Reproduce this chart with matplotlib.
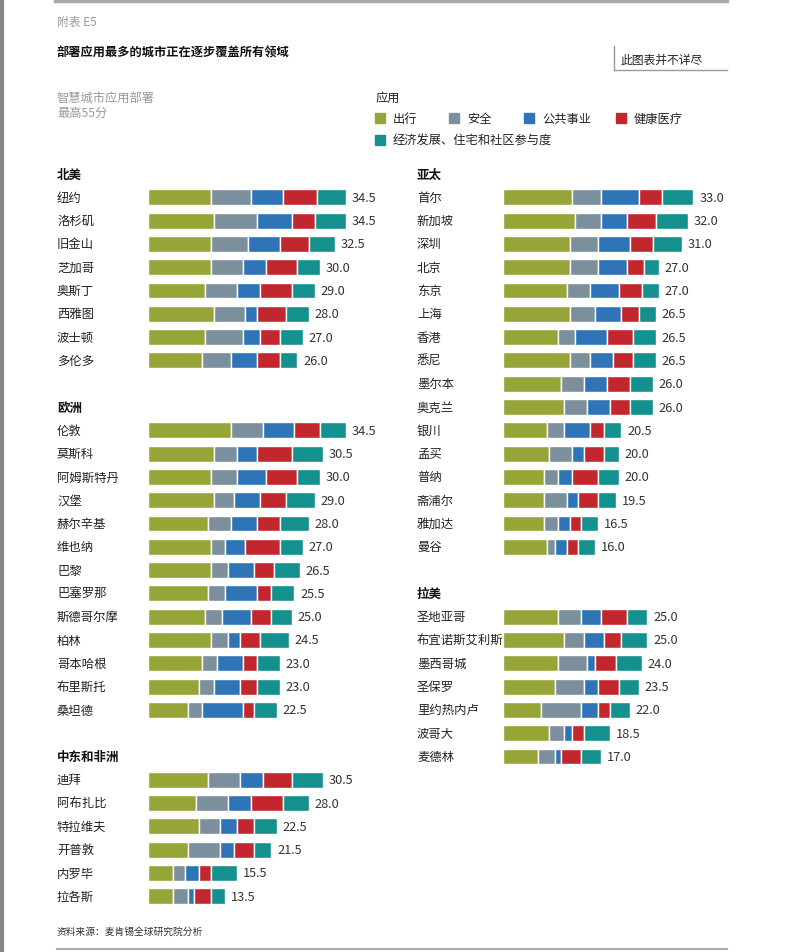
import matplotlib.pyplot as plt
from matplotlib.patches import Rectangle
from matplotlib.lines import Line2D

plt.rcParams['font.family'] = ['Noto Sans CJK SC', 'DejaVu Sans']

# left column: 北美, 欧洲, 中东和非洲
cities_left = ['纽约', '洛杉矶', '旧金山', '芝加哥', '奥斯丁', '西雅图', '波士顿', '多伦多',
               '伦敦', '莫斯科', '阿姆斯特丹', '汉堡', '赫尔辛基', '维也纳', '巴黎', '巴塞罗那',
               '斯德哥尔摩', '柏林', '哥本哈根', '布里斯托', '桑坦德',
               '迪拜', '阿布扎比', '特拉维夫', '开普敦', '内罗毕', '拉各斯']
mobility_left = [11, 11.5, 11, 11, 10, 11.5, 10, 9.5,
                 14.5, 11.5, 11, 11.5, 10.5, 11, 11, 10.5, 10, 11, 9.5, 9, 7,
                 10.5, 8.5, 9, 7, 4.5, 4.5]
security_left = [7, 7.5, 6.5, 5.5, 5.5, 5.5, 6.5, 5,
                 5.5, 4, 4.5, 3.5, 4, 2.5, 3, 3, 3, 3, 2.5, 2.5, 2.5,
                 5.5, 5.5, 3.5, 5.5, 2, 2.5]
utilities_left = [5.5, 6, 5.5, 4, 4, 2, 3, 4.5,
                  5.5, 3.5, 5, 4.5, 4.5, 3.5, 4.5, 5.5, 5, 2, 4.5, 4.5, 7,
                  4, 4, 3, 2.5, 2.5, 1]
health_left = [6, 4, 5, 5.5, 5.5, 5, 3.5, 4,
               4.5, 6, 5.5, 4.5, 4, 6, 3.5, 2.5, 3.5, 3.5, 2.5, 3, 2,
               5, 5.5, 3, 3.5, 2, 3]
economic_left = [5, 5.5, 4.5, 4, 4, 4, 4, 3,
                 4.5, 5.5, 4, 5, 5, 4, 4.5, 4, 3.5, 5, 4, 4, 4,
                 5.5, 4.5, 4, 3, 4.5, 2.5]
groups_left = [('北美', 8), ('欧洲', 13), ('中东和非洲', 6)]

# right column: 亚太, 拉美
cities_right = ['首尔', '新加坡', '深圳', '北京', '东京', '上海', '香港', '悉尼', '墨尔本', '奥克兰',
                '银川', '孟买', '普纳', '斋浦尔', '雅加达', '曼谷',
                '圣地亚哥', '布宜诺斯艾利斯', '墨西哥城', '圣保罗', '里约热内卢', '波哥大', '麦德林']
mobility_right = [12, 12.5, 11.5, 11.5, 11, 11.5, 9.5, 11.5, 10, 10.5,
                  7.5, 8, 7, 7, 7, 7.5,
                  9.5, 10.5, 9.5, 9, 6.5, 8, 6]
security_right = [5, 4.5, 5, 5, 4, 4.5, 3, 3.5, 4, 4,
                  3, 4, 2.5, 4, 2.5, 1.5,
                  4, 3.5, 5, 5, 7, 2.5, 3]
utilities_right = [6.5, 4.5, 5.5, 5, 5, 4.5, 5.5, 4, 4, 4,
                   4.5, 2, 2.5, 2, 2, 2,
                   3.5, 3.5, 1.5, 2.5, 3, 1.5, 1]
health_right = [4, 5, 4, 3, 4, 3, 4.5, 3.5, 4, 3.5,
                2.5, 3.5, 4.5, 3.5, 2, 2,
                4.5, 3, 3.5, 3.5, 2, 2, 3.5]
economic_right = [5.5, 5.5, 5, 2.5, 3, 3, 4, 4, 4, 4,
                  3, 2.5, 3.5, 3, 3, 3,
                  3.5, 4.5, 4.5, 3.5, 3.5, 4.5, 3.5]
groups_right = [('亚太', 16), ('拉美', 7)]

categories = ['出行', '安全', '公共事业', '健康医疗', '经济发展、住宅和社区参与度']
colors = ['#97a438', '#7b909c', '#2e74b6', '#c1272d', '#14908f']

W, H = 800, 953
fig = plt.figure(figsize=(W / 100, H / 100), dpi=100)
fig.patch.set_facecolor('white')

PITCH = 23.3
Y0 = 175  # pixel y of row index 0
SCALE = 5.76  # pixels per score unit


def px(x, y):
    return x / W, 1 - y / H


def draw_column(x_left, x_zero, cities, series, groups):
    top, bottom = 160, 920
    width = 350
    ax = fig.add_axes([x_left / W, 1 - bottom / H, width / W, (bottom - top) / H])
    ax.set_xlim(-(x_zero - x_left) / SCALE, (width - (x_zero - x_left)) / SCALE)
    ax.set_ylim((bottom - Y0) / PITCH, (top - Y0) / PITCH)
    ax.axis('off')
    trans = ax.get_yaxis_transform()
    idx = 0
    k = 0
    for name, n in groups:
        ax.text(0, idx, name, transform=trans, va='center', ha='left',
                fontsize=9, fontweight='bold', color='#111111')
        rows = list(range(idx + 1, idx + 1 + n))
        names = cities[k:k + n]
        vals = [s[k:k + n] for s in series]
        left = [0] * n
        for v, c in zip(vals, colors):
            ax.barh(rows, v, left=left, height=0.68, color=c,
                    edgecolor='white', linewidth=1.0)
            left = [a + b for a, b in zip(left, v)]
        for r, nm, tot in zip(rows, names, left):
            ax.text(0, r, nm, transform=trans, va='center', ha='left',
                    fontsize=8.9, color='#222222')
            ax.text(tot + 1.0, r, f'{tot:.1f}', va='center', ha='left',
                    fontsize=9.2, color='#333333')
        k += n
        idx += n + 2
    return ax


draw_column(57, 147.5, cities_left,
            [mobility_left, security_left, utilities_left, health_left, economic_left],
            groups_left)
draw_column(417, 503.3, cities_right,
            [mobility_right, security_right, utilities_right, health_right, economic_right],
            groups_right)

# header texts
fig.text(*px(57, 22), '附表 E5', fontsize=8.5, color='#999999', va='center')
fig.text(*px(57, 53), '部署应用最多的城市正在逐步覆盖所有领域', fontsize=8.8,
         fontweight='bold', color='#111111', va='center')
fig.text(*px(620, 60), '此图表并不详尽', fontsize=8.5, color='#222222', va='center')
fig.text(*px(57, 98), '智慧城市应用部署', fontsize=8.8, color='#999999', va='center')
fig.text(*px(57, 113), '最高55分', fontsize=8.8, color='#999999', va='center')
fig.text(*px(375, 98), '应用', fontsize=8.8, color='#222222', va='center')

# legend
legend_pos = [(375, 119), (449, 119), (524, 119), (616, 119), (375, 141)]
for (lx, ly), lab, c in zip(legend_pos, categories, colors):
    fig.patches.append(Rectangle(px(lx, ly + 5), 10 / W, 10 / H, color=c,
                                 transform=fig.transFigure, figure=fig))
    fig.text(*px(lx + 18, ly), lab, fontsize=8.8, color='#222222', va='center')

fig.text(*px(57, 932), '资料来源：麦肯锡全球研究院分析', fontsize=7, color='#333333', va='center')

# rules
lines = [((55, 727), (1.5, 1.5), '#aaaaaa', 2.5),
         ((57, 727), (950, 950), '#aaaaaa', 1.5),
         ((614, 614), (47, 71), '#999999', 1),
         ((614, 727), (71, 71), '#999999', 1),
         ((1.5, 1.5), (0, 953), '#888888', 3)]
for xs, ys, c, lw in lines:
    fig.lines.append(Line2D([x / W for x in xs], [1 - y / H for y in ys], color=c,
                            linewidth=lw, transform=fig.transFigure, figure=fig))

fig.savefig('out.png', dpi=100)
